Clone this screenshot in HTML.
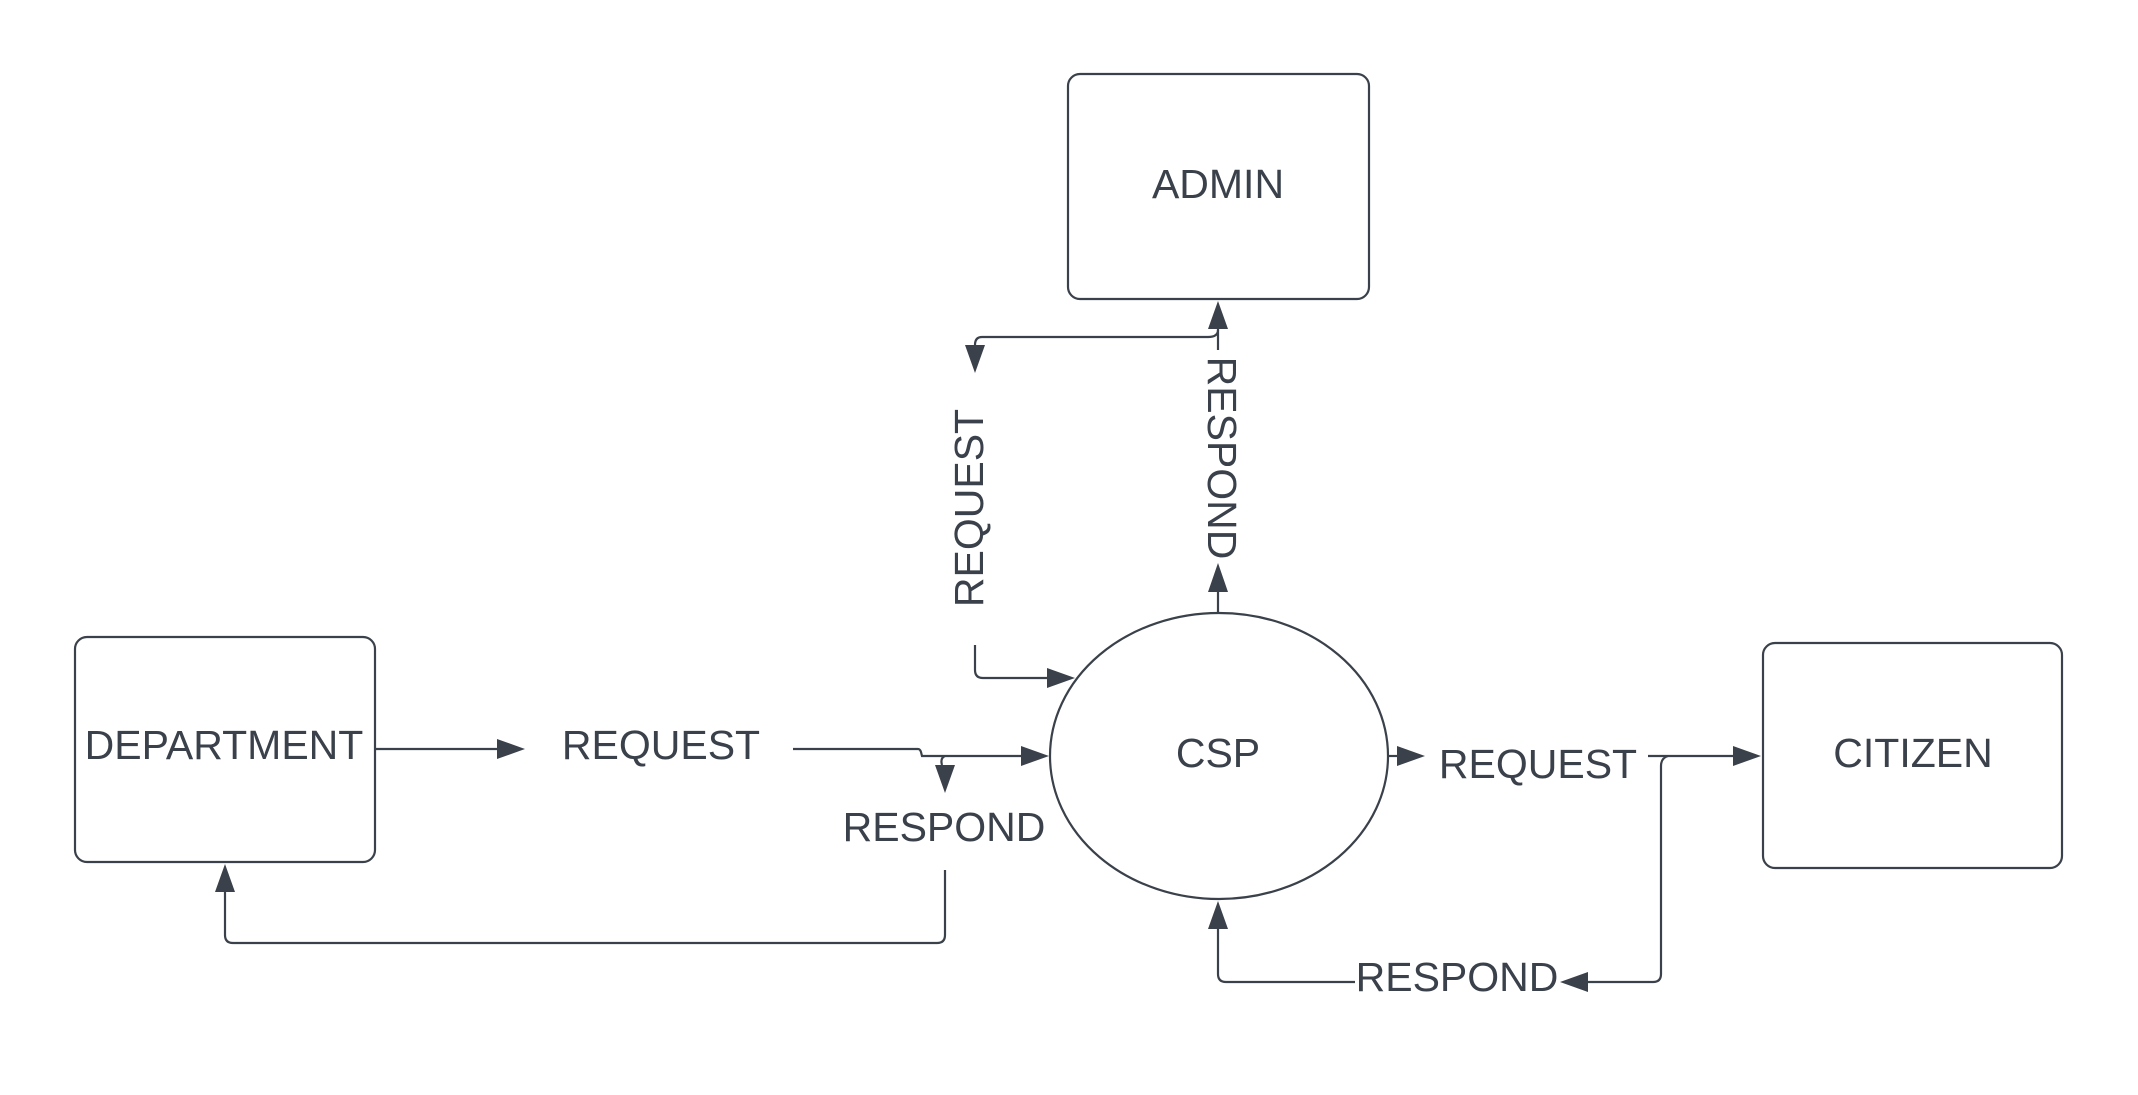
<!DOCTYPE html>
<html><head><meta charset="utf-8"><style>
html,body{margin:0;padding:0;background:#fff;}
svg{display:block}
text{font-family:"Liberation Sans",Arial,sans-serif;font-size:41px;fill:#3a414a;}
</style></head><body>
<svg width="2138" height="1095" viewBox="0 0 2138 1095" xmlns="http://www.w3.org/2000/svg">
<g fill="none" stroke="#3a414a" stroke-width="2.2">
<rect x="1068" y="74" width="301" height="225" rx="12"/>
<rect x="75" y="637" width="300" height="225" rx="12"/>
<rect x="1763" y="643" width="299" height="225" rx="12"/>
<ellipse cx="1219" cy="756" rx="169" ry="143"/>
<!-- admin connectors -->
<path d="M1218 613 V592"/>
<path d="M1218 350 V310"/>
<path d="M1218 330 Q1218 337 1208 337 H982 Q975 337 975 345 V350"/>
<path d="M975 645 V670 Q975 678 983 678 H1048"/>
<!-- department -->
<path d="M375 749 H497"/>
<path d="M793 749 H918 Q920 749 921 752 L922 756 H1022"/>
<path d="M945 756 Q940 758 942 765"/>
<path d="M945 870 V935 Q945 943 937 943 H233 Q225 943 225 935 V890"/>
<!-- citizen -->
<path d="M1388 756 H1398"/>
<path d="M1648 756 H1733"/>
<path d="M1668 756 Q1661 758 1661 766 V974 Q1661 982 1653 982 H1588"/>
<path d="M1355 982 H1226 Q1218 982 1218 974 V927"/>
</g>
<g fill="#3a414a">
<polygon points="1218,301 1208,329 1228,329"/>
<polygon points="1218,563 1208,592 1228,592"/>
<polygon points="975,373 965,345 985,345"/>
<polygon points="1075,678 1047,668 1047,688"/>
<polygon points="525,749 497,739 497,759"/>
<polygon points="1049,756 1021,746 1021,766"/>
<polygon points="945,793 935,765 955,765"/>
<polygon points="225,864 215,892 235,892"/>
<polygon points="1425,756 1397,746 1397,766"/>
<polygon points="1761,756 1733,746 1733,766"/>
<polygon points="1560,982 1588,972 1588,992"/>
<polygon points="1218,901 1208,929 1228,929"/>
</g>
<text x="1218" y="198" text-anchor="middle">ADMIN</text>
<text x="224" y="759" text-anchor="middle">DEPARTMENT</text>
<text x="661" y="759" text-anchor="middle">REQUEST</text>
<text x="944" y="841" text-anchor="middle">RESPOND</text>
<text x="1218" y="767" text-anchor="middle">CSP</text>
<text x="1538" y="778" text-anchor="middle">REQUEST</text>
<text x="1913" y="767" text-anchor="middle">CITIZEN</text>
<text x="1457" y="991" text-anchor="middle">RESPOND</text>
<text transform="translate(983,508) rotate(-90)" text-anchor="middle">REQUEST</text>
<text transform="translate(1208,458) rotate(90)" text-anchor="middle">RESPOND</text>
</svg>
</body></html>
